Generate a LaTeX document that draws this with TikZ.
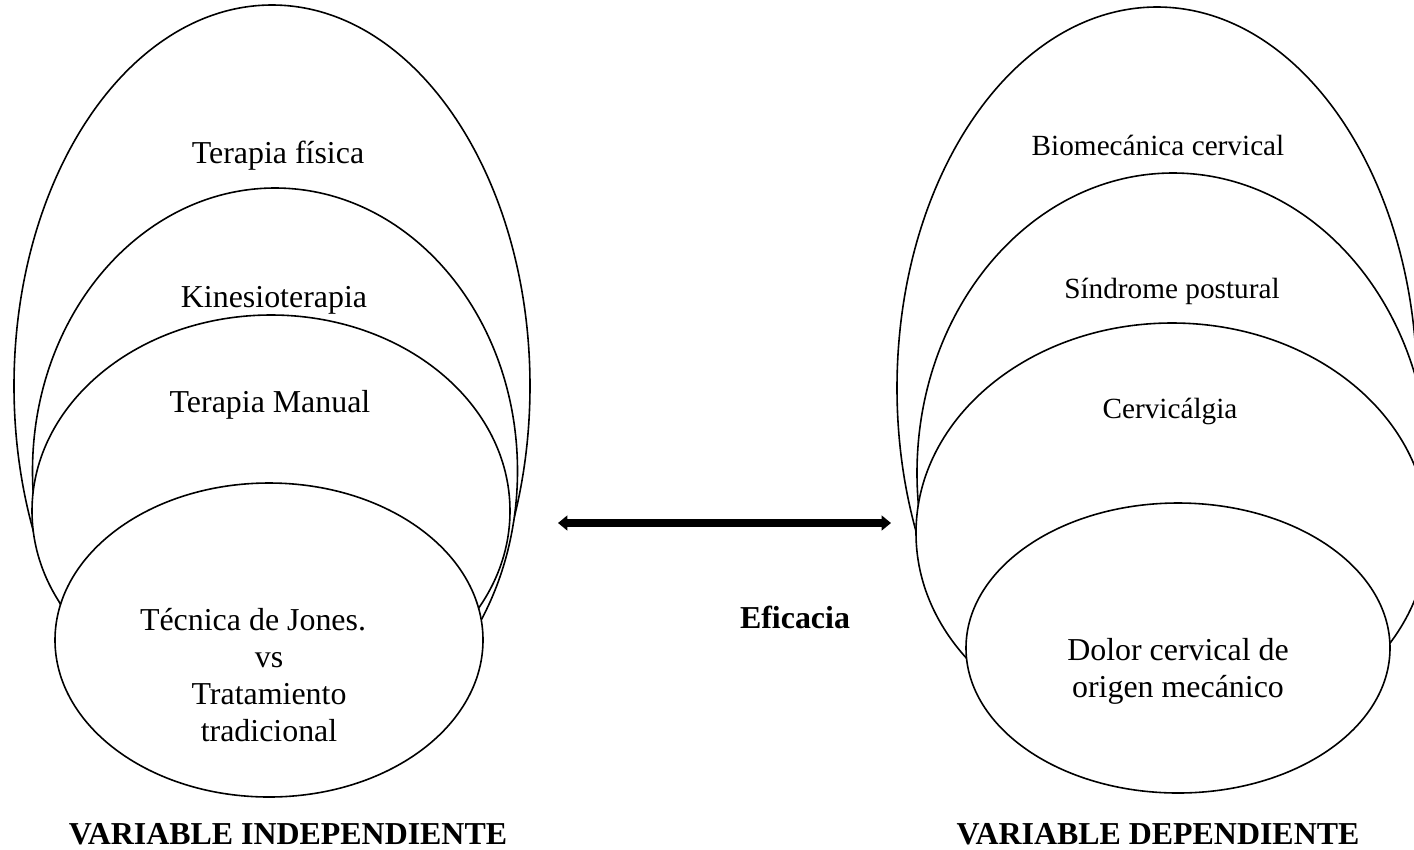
\documentclass[tikz,border=0pt]{standalone}
\usepackage{fontspec}
\setmainfont{Liberation Serif}
\usetikzlibrary{arrows.meta, shapes.geometric}

% one picture pixel
\newlength\pu
\setlength\pu{0.376pt}

\begin{document}
\begin{tikzpicture}[x=0.376pt, y=-0.376pt,
    oval/.style={ellipse, draw, fill=white, line width=0.6pt, inner sep=0pt},
    item_text/.style={font=\fontsize{12}{13.9}\selectfont, align=center, inner sep=0pt, anchor=base},
    small_text/.style={font=\fontsize{11}{13}\selectfont, inner sep=0pt, anchor=base},
    title_text/.style={font=\fontsize{12}{14}\selectfont\bfseries, inner sep=0pt, anchor=base},
    link/.style={{Triangle[length=3.5pt,width=5.5pt]}-{Triangle[length=3.5pt,width=5.5pt]}, line width=3pt}
]

% Fix the page to the picture size
\useasboundingbox (0,0) rectangle (1414,849);
\clip (0,0) rectangle (1414,849);

% Independent variable: nested ovals
\node[oval, minimum width=516\pu, minimum height=762\pu] (fisica) at (272,386) {};
\node[oval, minimum width=485\pu, minimum height=566\pu] (kinesio) at (275,471) {};
\node[oval, minimum width=478\pu, minimum height=392\pu] (manual) at (271,511) {};
\node[oval, minimum width=428\pu, minimum height=314\pu] (jones) at (269,640) {};

% (multi-line texts are placed by the baseline of their last line)
\node[item_text] (fisica_txt) at (278,163) {Terapia física};
\node[item_text] (kinesio_txt) at (274,307) {Kinesioterapia};
\node[item_text] (manual_txt) at (270,412) {Terapia Manual};
\node[item_text] (jones_txt) at (269,741) {Técnica de Jones.\hspace*{12pt}\\vs\\Tratamiento\\tradicional};

% Dependent variable: nested ovals
\node[oval, minimum width=520\pu, minimum height=762\pu] (biomec) at (1157,388) {};
\node[oval, minimum width=512\pu, minimum height=600\pu] (sindrome) at (1173,473) {};
\node[oval, minimum width=512\pu, minimum height=420\pu] (cervical) at (1172,533) {};
\node[oval, minimum width=424\pu, minimum height=290\pu] (dolor) at (1178,648) {};

\node[small_text] (biomec_txt) at (1158,155) {Biomecánica cervical};
\node[small_text] (sindrome_txt) at (1172,298) {Síndrome postural};
\node[small_text] (cervical_txt) at (1170,418) {Cervicálgia};
\node[item_text] (dolor_txt) at (1178,697) {Dolor cervical de\\origen mecánico};

% Relation between both variables
\coordinate (linkL) at (558,523);
\coordinate (linkR) at (891,523);
\draw[link] (linkL) -- (linkR);
\node[title_text] (eficacia) at (795,628) {Eficacia};

% Titles under the ovals
\node[title_text] (indep) at (288,844) {VARIABLE INDEPENDIENTE};
\node[title_text] (dep) at (1158,844) {VARIABLE DEPENDIENTE};

\end{tikzpicture}
\end{document}
